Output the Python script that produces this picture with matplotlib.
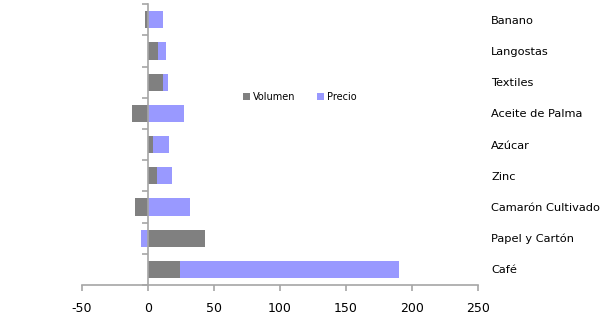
import numpy as np
import matplotlib.pyplot as plt

# data, bottom to top
categorias = ['Café', 'Papel y Cartón', 'Camarón Cultivado', 'Zinc', 'Azúcar',
              'Aceite de Palma', 'Textiles', 'Langostas', 'Banano']
volumen = [24, 43, -10, 6.5, 4, -12, 11.5, 7.5, -2.5]
precio = [166.5, -5, 32, 11.5, 12, 27.3, 3.3, 6.5, 11.5]
xticks = [-50, 0, 50, 100, 150, 200, 250]

gris = '#808080'
lila = '#9999ff'
eje = '#a6a6a6'

fig = plt.figure(figsize=(6.1, 3.16), dpi=100)
ax = fig.add_axes([0.1344, 0.098, 0.6492, 0.889])

y = np.arange(len(categorias))
vol = np.array(volumen)
pre = np.array(precio)

# Excel-like stacking: positives to the right, negatives to the left
vol_left = np.zeros(len(y))
pre_left = np.where(np.sign(pre) == np.sign(vol), vol, 0)

ax.barh(y, vol, left=vol_left, height=0.55, color=gris, label='Volumen')
ax.barh(y, pre, left=pre_left, height=0.55, color=lila, label='Precio')

ax.set_xlim(-50, 250)
ax.set_ylim(-0.5, len(categorias) - 0.5)
ax.set_xticks(xticks)
ax.set_xticklabels([str(t) for t in xticks])

# vertical axis at zero, category labels on the right
ax.spines['left'].set_position(('data', 0))
ax.spines['left'].set_color(eje)
ax.spines['bottom'].set_color(eje)
ax.spines['left'].set_linewidth(1.2)
ax.spines['bottom'].set_linewidth(1.2)
ax.spines['top'].set_visible(False)
ax.spines['right'].set_visible(False)

ax.set_yticks(y)
ax.set_yticklabels(categorias)
ax.set_yticks(np.arange(len(categorias) + 1) - 0.5, minor=True)
ax.tick_params(axis='y', which='major', left=False, right=False,
               labelleft=False, labelright=True, pad=6, labelsize=8.2,
               labelcolor='#000000')
ax.tick_params(axis='y', which='minor', left=True, direction='out',
               length=4, width=1.2, color=eje)
ax.tick_params(axis='x', direction='out', length=4, width=1.2, color=eje,
               labelsize=9, pad=8)
for lbl in ax.get_yticklabels():
    lbl.set_horizontalalignment('left')

ax.legend(loc='center', bbox_to_anchor=(0.55, 0.669), ncol=2, frameon=False,
          fontsize=7, handlelength=0.7, handleheight=0.7, handletextpad=0.3,
          columnspacing=2.2)

plt.savefig('out.png', dpi=100)
